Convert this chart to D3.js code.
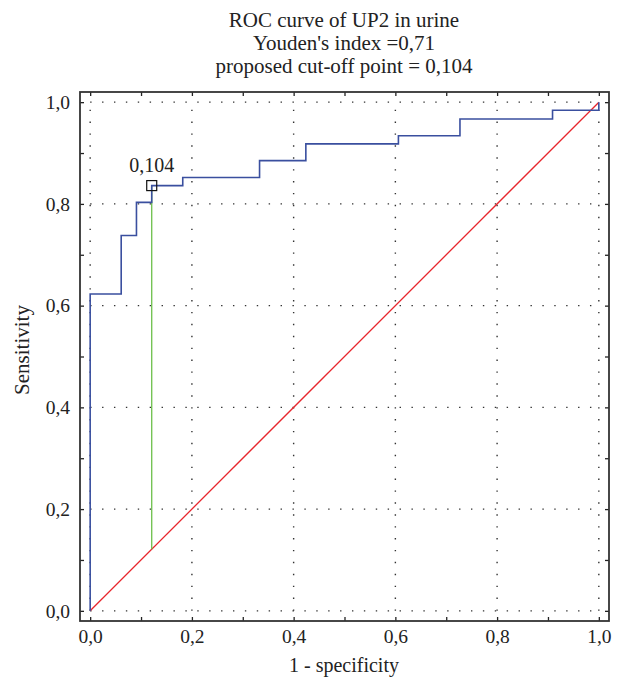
<!DOCTYPE html>
<html>
<head>
<meta charset="utf-8">
<script src="https://cdn.jsdelivr.net/npm/d3@7"></script>
<style>
	body { margin: 0; background: #fff; }
	svg { display: block; }
	text { font-family: "Liberation Serif", "DejaVu Serif", serif; fill: #222; }
</style>
</head>
<body>
<svg></svg>
<script>
// ROC step points (1 - specificity, sensitivity)
var fprPoints = [0, 0, 0.061, 0.091, 0.121, 0.182, 0.333, 0.424, 0.606, 0.727, 0.909, 1.0];
var tprPoints = [0, 0.623, 0.738, 0.803, 0.836, 0.852, 0.885, 0.918, 0.934, 0.967, 0.984, 1.0];
var refLine = [0, 1];
var cutX = 0.121;
var cutY = 0.836;
var cutLabel = "0,104";
var titleLines = ["ROC curve of UP2 in urine", "Youden's index =0,71", "proposed cut-off point = 0,104"];
var tickVals = [0, 0.1, 0.2, 0.3, 0.4, 0.5, 0.6, 0.7, 0.8, 0.9, 1.0];
var gridVals = [0, 0.2, 0.4, 0.6, 0.8, 1.0];
var xTitle = "1 - specificity";
var yTitle = "Sensitivity";

var width = 622;
var height = 682;
var svg;
var x, y;

var locale = d3.formatLocale({decimal: ",", thousands: ".", grouping: [3], currency: ["", ""]});
var fmt = locale.format(".1f");

function label(d){
	// only every other tick gets a number
	return Math.round(d*10)%2==0 ? fmt(d) : "";
}

function init(){
	svg = d3.select("svg").attr("width", width).attr("height", height);
	x = d3.scaleLinear().domain([-0.02, 1.02]).range([80, 609]);
	y = d3.scaleLinear().domain([-0.02, 1.02]).range([621, 92]);

	// title
	svg.append("g").selectAll("text").data(titleLines)
	.enter().append("text")
	.attr("x", 344)
	.attr("y", function(d, i){ return 27 + i*22.8; })
	.attr("text-anchor", "middle")
	.style("font-size", "21px")
	.text(function(d){ return d; });

	// dotted grid
	var grid = svg.append("g").attr("class", "grid");
	grid.selectAll(".gx").data(gridVals)
	.enter().append("line")
	.attr("x1", function(d){ return x(d); })
	.attr("x2", function(d){ return x(d); })
	.attr("y1", y(0)).attr("y2", y(1));
	grid.selectAll(".gy").data(gridVals)
	.enter().append("line")
	.attr("class", "gy")
	.attr("y1", function(d){ return y(d); })
	.attr("y2", function(d){ return y(d); })
	.attr("x1", x(0)).attr("x2", x(1));
	grid.selectAll("line")
	.style("stroke", "#333")
	.style("stroke-width", 1.4)
	.style("stroke-dasharray", "1.4,10.5");

	// axes, ticks point inward
	var fs = "19.5px";
	svg.append("g").attr("transform", "translate(0,621)")
	.call(d3.axisBottom(x).tickValues(tickVals).tickSize(-4).tickPadding(8).tickFormat(label))
	.call(function(g){ g.select(".domain").remove(); g.selectAll("text").style("font-size", fs).style("font-family", null); });
	svg.append("g").attr("transform", "translate(80,0)")
	.call(d3.axisLeft(y).tickValues(tickVals).tickSize(-4).tickPadding(10).tickFormat(label))
	.call(function(g){ g.select(".domain").remove(); g.selectAll("text").style("font-size", fs).style("font-family", null); });
	svg.append("g").attr("transform", "translate(0,92)")
	.call(d3.axisTop(x).tickValues(tickVals).tickSize(-4).tickFormat(""))
	.call(function(g){ g.select(".domain").remove(); });
	svg.append("g").attr("transform", "translate(609,0)")
	.call(d3.axisRight(y).tickValues(tickVals).tickSize(-4).tickFormat(""))
	.call(function(g){ g.select(".domain").remove(); });
	svg.selectAll(".tick line").style("stroke", "#222").style("stroke-width", 1.3);

	// reference diagonal
	svg.append("line")
	.attr("x1", x(refLine[0])).attr("y1", y(refLine[0]))
	.attr("x2", x(refLine[1])).attr("y2", y(refLine[1]))
	.style("stroke", "#e8262d")
	.style("stroke-width", 1.3);

	// cut-off drop line
	svg.append("line")
	.attr("x1", x(cutX)).attr("y1", y(cutY))
	.attr("x2", x(cutX)).attr("y2", y(cutX))
	.style("stroke", "#6cbf4a")
	.style("stroke-width", 1.3);

	// roc curve
	var pts = fprPoints.map(function(d, i){ return [d, tprPoints[i]]; });
	var line = d3.line()
	.x(function(d){ return x(d[0]); })
	.y(function(d){ return y(d[1]); })
	.curve(d3.curveStepAfter);
	svg.append("path")
	.datum(pts)
	.attr("d", line)
	.style("fill", "none")
	.style("stroke", "#3a4f9f")
	.style("stroke-width", 1.6);

	// cut-off marker
	svg.append("rect")
	.attr("x", x(cutX)-5).attr("y", y(cutY)-5)
	.attr("width", 10).attr("height", 10)
	.style("fill", "none")
	.style("stroke", "#111")
	.style("stroke-width", 1.2);
	svg.append("text")
	.attr("x", x(cutX)).attr("y", y(cutY)-14)
	.attr("text-anchor", "middle")
	.style("font-size", "20px")
	.text(cutLabel);

	// frame
	svg.append("rect")
	.attr("x", 80).attr("y", 92)
	.attr("width", 529).attr("height", 529)
	.style("fill", "none")
	.style("stroke", "#333")
	.style("stroke-width", 1.8);

	// axis titles
	svg.append("text")
	.attr("x", 344).attr("y", 672)
	.attr("text-anchor", "middle")
	.style("font-size", "20px")
	.text(xTitle);
	svg.append("text")
	.attr("transform", "translate(29,350) rotate(-90)")
	.attr("text-anchor", "middle")
	.style("font-size", "21px")
	.text(yTitle);
}

init();
</script>
</body>
</html>
